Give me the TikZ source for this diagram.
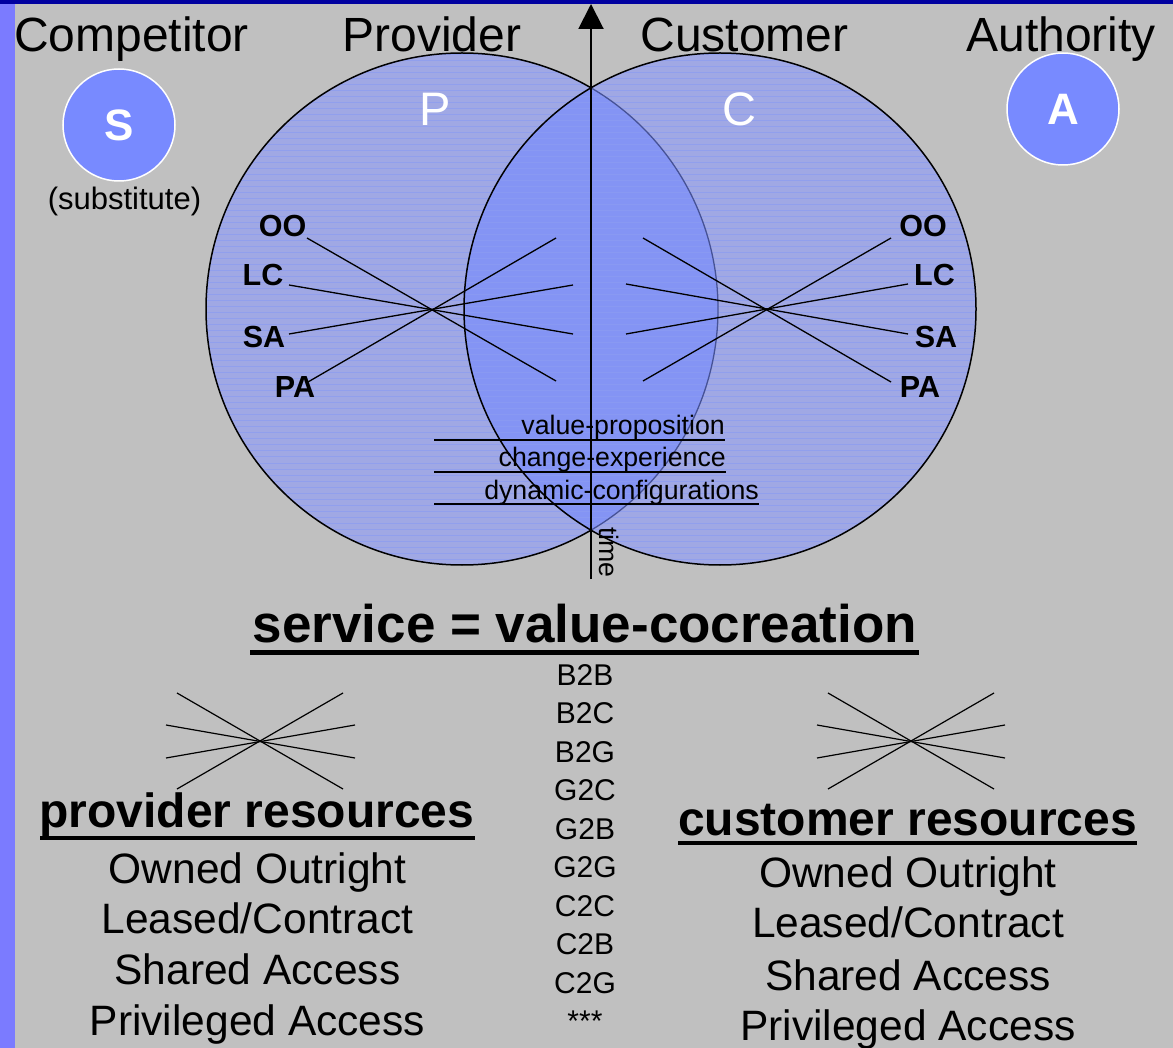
\documentclass[tikz,border=0pt]{standalone}
\usepackage{fontspec}
\setmainfont{Liberation Sans}
\usetikzlibrary{arrows.meta}
\newcommand\myfs[1]{\fontsize{#1}{#1}\selectfont}
\definecolor{bg}{RGB}{192,192,192}
\definecolor{strip}{RGB}{123,123,255}
\definecolor{topbar}{RGB}{0,0,160}
\definecolor{circfill}{RGB}{160,168,228}
\definecolor{lensfill}{RGB}{132,148,244}
\definecolor{stripe}{RGB}{140,156,242}
\definecolor{faded}{RGB}{70,82,150}
\definecolor{badge}{RGB}{120,138,255}
\tikzset{
  lbl/.style={inner sep=0pt, anchor=base},
  big/.style={lbl, font=\myfs{48}},
  rlbl/.style={lbl, font=\myfs{30.5}\bfseries},
  under/.style={lbl, font=\myfs{26.7}},
  ray/.style={line width=1.3pt, black},
  badgecirc/.style={circle, fill=badge, draw=white, line width=1.5pt, minimum size=112pt, inner sep=0pt, text=white, font=\myfs{44}\bfseries},
  res/.style={lbl, font=\myfs{42.5}},
  reshead/.style={lbl, font=\myfs{48}\bfseries},
  code/.style={lbl, font=\myfs{30}}
}
\begin{document}
\begin{tikzpicture}[x=1pt,y=-1pt]
\useasboundingbox (0,0) rectangle (1173,1048);
% background
\fill[bg] (0,0) rectangle (1173,1048);
\fill[strip] (0,0) rectangle (15,1048);
\fill[topbar] (0,0) rectangle (1173,4);
% circle centres
\coordinate (L) at (462,309);
\coordinate (R) at (720,309);
% fills
\fill[circfill] (L) circle (256);
\fill[circfill] (R) circle (256);
\begin{scope}
  \clip (L) circle (256);
  \fill[lensfill] (R) circle (256);
\end{scope}
% stripes
\begin{scope}
  \clip (L) circle (256) (R) circle (256);
  \foreach \yy in {55,61,...,565} {
    \draw[stripe, line width=1pt, opacity=0.7] (200,\yy) -- (980,\yy);
  }
\end{scope}
% outlines
\begin{scope}[even odd rule]
  \clip (0,0) rectangle (1173,1048) (R) circle (256);
  \draw[black, line width=1.5pt] (L) circle (256);
\end{scope}
\begin{scope}
  \clip (R) circle (256);
  \draw[faded, line width=1.3pt] (L) circle (256);
\end{scope}
\draw[black, line width=1.5pt] (R) circle (256);

% time axis
\coordinate (axisbot) at (591,579);
\coordinate (axistop) at (591,4);
\draw[line width=2pt, -{Triangle[width=25pt,length=25pt]}] (axisbot) -- (axistop);
\node[under, rotate=-90, anchor=base west] (time) at (599,527) {time};

% top labels
\node[big] (comp) at (131.5,52) {Competitor};
\node[big] (prov) at (432,52) {Provider};
\node[big] (cust) at (744.5,52) {Customer};
\node[big] (auth) at (1061,52) {Authority};

% badges
\node[badgecirc] (S) at (119,125) {S};
\node[badgecirc] (A) at (1063,109) {A};
\node[lbl, font=\myfs{31}] (subst) at (124.5,210) {(substitute)};

% P and C
\node[font=\myfs{47}, text=white, inner sep=0pt] (P) at (435,109) {P};
\node[font=\myfs{47}, text=white, inner sep=0pt] (C) at (739,109) {C};

% left rays
\draw[ray] (307,238) -- (556,381);
\draw[ray] (289,285) -- (573,334);
\draw[ray] (289,334) -- (573,285);
\draw[ray] (308,382) -- (556,238);
\node[rlbl] (lOO) at (282.5,237) {OO};
\node[rlbl] (lLC) at (263,286) {LC};
\node[rlbl] (lSA) at (264,348) {SA};
\node[rlbl] (lPA) at (295,398) {PA};
% right rays
\draw[ray] (643,238) -- (891,382);
\draw[ray] (643,381) -- (891,238);
\draw[ray] (626,284) -- (908,334);
\draw[ray] (626,334) -- (908,284);
\node[rlbl] (rOO) at (923,237) {OO};
\node[rlbl] (rLC) at (934.5,286) {LC};
\node[rlbl] (rSA) at (936,348) {SA};
\node[rlbl] (rPA) at (920,398) {PA};

% underlined centre texts
\node[under, anchor=base east] (vp) at (725,435) {value-proposition};
\node[under, anchor=base east] (ce) at (726,467) {change-experience};
\node[under, anchor=base east] (dc) at (759,499) {dynamic-configurations};
\draw[line width=2pt] (434,440) -- (725,440);
\draw[line width=2pt] (434,472) -- (726,472);
\draw[line width=2pt] (434,504) -- (759,504);

% service line
\node[lbl, font=\myfs{53}\bfseries] (serv) at (585,642) {service = value-cocreation};
\draw[line width=5pt] (250,652) -- (919,652);

% codes
\foreach \t [count=\i from 0] in {B2B,B2C,B2G,G2C,G2B,G2G,C2C,C2B,C2G,***} {
  \node[code] (code\i) at (585,685+38.5*\i) {\t};
}

% bottom left cross
\draw[ray, line width=1.2pt] (177,693) -- (343,789);
\draw[ray, line width=1.2pt] (177,789) -- (343,693);
\draw[ray, line width=1.2pt] (166,725) -- (355,758);
\draw[ray, line width=1.2pt] (166,758) -- (355,725);
% bottom right cross
\draw[ray, line width=1.2pt] (828,693) -- (994,789);
\draw[ray, line width=1.2pt] (828,789) -- (994,693);
\draw[ray, line width=1.2pt] (817,725) -- (1005,758);
\draw[ray, line width=1.2pt] (817,758) -- (1005,725);

% provider resources
\node[reshead] (ph) at (257,827) {provider resources};
\draw[line width=4.5pt] (40,838) -- (475,838);
\node[res] (p1) at (257.5,883) {Owned Outright};
\node[res] (p2) at (257.5,933) {Leased/Contract};
\node[res] (p3) at (257.5,984) {Shared Access};
\node[res] (p4) at (257.5,1035) {Privileged Access};

% customer resources
\node[reshead] (ch) at (907.5,835) {customer resources};
\draw[line width=4.5pt] (678,843) -- (1137,843);
\node[res] (c1) at (908,887) {Owned Outright};
\node[res] (c2) at (908,937) {Leased/Contract};
\node[res] (c3) at (908,990) {Shared Access};
\node[res] (c4) at (908,1040) {Privileged Access};
\end{tikzpicture}
\end{document}
